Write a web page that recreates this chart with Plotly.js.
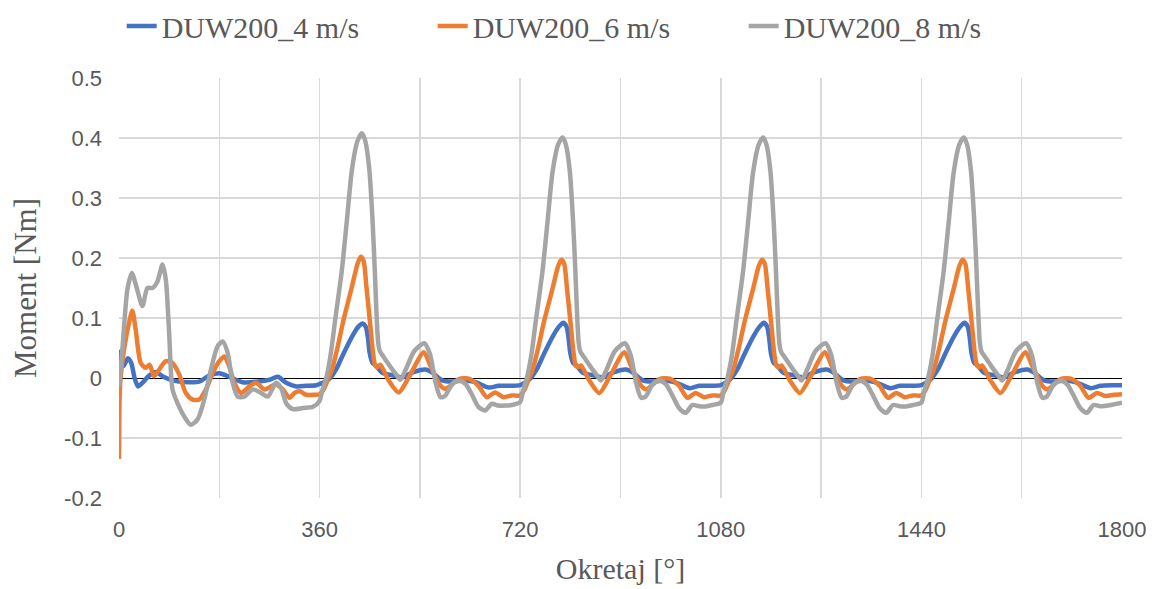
<!DOCTYPE html>
<html>
<head>
<meta charset="utf-8">
<script src="https://cdn.plot.ly/plotly-3.0.1.min.js"></script>
<style>html,body{margin:0;padding:0;background:#fff;}#chart{width:1159px;height:589px;}</style>
</head>
<body>
<div id="chart"></div>
<script>
// Series names
const seriesNames = ["DUW200_4 m/s", "DUW200_6 m/s", "DUW200_8 m/s"];

// DUW200_4 m/s
const angle4 = [
  0,3,8,16,22,28,34,42,54,66,78,93,108,126,144,162,180,198,222,250,270,285,300,318,336,354,
  360,370,379,390,403,420,430,437,443,447,450,455,461,472,493,508,526,550,562,580,598,622,640,664,681,705,
  720,730,739,750,763,780,790,797,803,807,810,815,821,832,853,868,886,910,922,940,958,982,1000,1024,1041,1065,
  1080,1090,1099,1110,1123,1140,1150,1157,1163,1167,1170,1175,1181,1192,1213,1228,1246,1270,1282,1300,1318,1342,1360,1384,1401,1425,
  1440,1450,1459,1470,1483,1500,1510,1517,1523,1527,1530,1535,1541,1552,1573,1588,1606,1630,1642,1660,1678,1702,1720,1744,1761,1785,1800
];
const moment4 = [
  0.047,0.03,0.02,0.033,0.025,0.0,-0.014,-0.008,0.004,0.01,0.003,-0.003,-0.006,-0.007,-0.006,0.004,0.008,0.002,-0.007,-0.006,-0.003,0.002,-0.008,-0.014,-0.013,-0.012,
  -0.01,-0.006,0.0,0.015,0.041,0.072,0.086,0.091,0.085,0.065,0.041,0.025,0.021,0.009,0.004,0.001,0.009,0.014,0.009,-0.004,-0.006,-0.004,-0.007,-0.016,-0.013,-0.013,
  -0.012,-0.007,0.0,0.015,0.041,0.072,0.086,0.092,0.086,0.065,0.041,0.025,0.021,0.009,0.004,0.001,0.009,0.014,0.009,-0.004,-0.006,-0.004,-0.008,-0.017,-0.013,-0.013,
  -0.012,-0.007,0.0,0.015,0.041,0.072,0.086,0.092,0.086,0.065,0.041,0.025,0.021,0.009,0.004,0.001,0.009,0.014,0.009,-0.004,-0.006,-0.004,-0.008,-0.017,-0.013,-0.013,
  -0.012,-0.007,0.0,0.015,0.041,0.072,0.086,0.092,0.086,0.065,0.041,0.025,0.021,0.009,0.004,0.001,0.009,0.014,0.009,-0.004,-0.006,-0.004,-0.008,-0.017,-0.013,-0.012,-0.012
];

// DUW200_6 m/s
const angle6 = [
  0,2,9,18,24,30,39,48,55,63,72,84,96,108,120,132,144,156,168,180,189,198,207,219,234,246,261,273,282,294,306,315,324,336,350,
  360,368,376,382,392,403,418,428,434,439,444,450,456,460,464,469,484,502,520,547,559,577,586,610,628,645,660,675,690,705,
  720,728,736,742,752,763,778,788,794,799,804,810,816,820,824,829,844,862,880,907,919,937,946,970,988,1005,1020,1035,1050,1065,
  1080,1088,1096,1102,1112,1123,1138,1148,1154,1159,1164,1170,1176,1180,1184,1189,1204,1222,1240,1267,1279,1297,1306,1330,1348,1365,1380,1395,1410,1425,
  1440,1448,1456,1462,1472,1483,1498,1508,1514,1519,1524,1530,1536,1540,1544,1549,1564,1582,1600,1627,1639,1657,1666,1690,1708,1725,1740,1755,1770,1785,1800
];
const moment6 = [
  -0.135,-0.01,0.047,0.092,0.112,0.08,0.025,0.017,0.022,0.003,0.014,0.028,0.025,0.006,-0.025,-0.036,-0.036,-0.019,0.008,0.028,0.036,0.019,-0.008,-0.025,-0.014,-0.008,-0.019,-0.014,-0.011,-0.019,-0.033,-0.025,-0.022,-0.028,-0.028,
  -0.027,-0.018,0.0,0.013,0.05,0.097,0.152,0.19,0.202,0.195,0.152,0.097,0.041,0.02,0.018,0.022,-0.004,-0.024,0.001,0.043,0.02,-0.013,-0.018,-0.002,-0.001,-0.013,-0.032,-0.024,-0.032,-0.029,
  -0.029,-0.019,0.0,0.013,0.049,0.095,0.149,0.186,0.197,0.19,0.149,0.095,0.04,0.02,0.018,0.021,-0.004,-0.025,0.001,0.043,0.02,-0.013,-0.019,-0.002,-0.001,-0.013,-0.033,-0.025,-0.032,-0.029,
  -0.029,-0.019,0.0,0.013,0.049,0.095,0.149,0.186,0.197,0.19,0.149,0.095,0.04,0.02,0.018,0.021,-0.004,-0.025,0.001,0.043,0.02,-0.013,-0.019,-0.002,-0.001,-0.013,-0.033,-0.025,-0.032,-0.029,
  -0.029,-0.019,0.0,0.013,0.049,0.095,0.149,0.186,0.197,0.19,0.149,0.095,0.04,0.02,0.018,0.021,-0.004,-0.025,0.001,0.043,0.02,-0.013,-0.019,-0.002,-0.001,-0.013,-0.033,-0.025,-0.03,-0.028,-0.027
];

// DUW200_8 m/s
const angle8 = [
  0,6,15,23,31,42,51,60,69,78,84,90,96,105,117,129,141,153,165,177,186,195,204,213,225,240,255,267,282,291,300,312,330,348,
  360,365,372,380,388,400,409,418,428,436,442,449,455,459,462,465,468,475,486,498,505,515,530,548,558,568,577,585,598,610,622,632,645,657,669,681,695,705,
  720,725,732,740,748,760,769,778,788,796,802,809,815,819,822,825,828,835,846,858,865,875,890,908,918,928,937,945,958,970,982,992,1005,1017,1029,1041,1055,1065,
  1080,1085,1092,1100,1108,1120,1129,1138,1148,1156,1162,1169,1175,1179,1182,1185,1188,1195,1206,1218,1225,1235,1250,1268,1278,1288,1297,1305,1318,1330,1342,1352,1365,1377,1389,1401,1415,1425,
  1440,1445,1452,1460,1468,1480,1489,1498,1508,1516,1522,1529,1535,1539,1542,1545,1548,1555,1566,1578,1585,1595,1610,1628,1638,1648,1657,1665,1678,1690,1702,1712,1725,1737,1749,1761,1775,1785,1800
];
const moment8 = [
  -0.014,0.047,0.147,0.175,0.153,0.12,0.15,0.15,0.161,0.189,0.164,0.075,-0.019,-0.042,-0.064,-0.078,-0.069,-0.036,0.014,0.053,0.061,0.042,-0.008,-0.031,-0.031,-0.019,-0.025,-0.031,-0.008,-0.017,-0.042,-0.052,-0.05,-0.048,
  -0.038,-0.02,0.0,0.04,0.097,0.18,0.263,0.347,0.395,0.408,0.395,0.35,0.263,0.18,0.11,0.06,0.045,0.035,0.02,0.005,-0.003,0.015,0.045,0.058,0.04,-0.007,-0.032,-0.03,-0.01,-0.004,-0.01,-0.025,-0.048,-0.054,-0.043,-0.046,-0.046,-0.045,
  -0.04,-0.022,0.0,0.038,0.095,0.178,0.26,0.343,0.389,0.401,0.389,0.345,0.259,0.178,0.108,0.058,0.044,0.034,0.019,0.004,-0.004,0.014,0.045,0.058,0.039,-0.008,-0.033,-0.031,-0.01,-0.004,-0.011,-0.027,-0.05,-0.058,-0.045,-0.047,-0.047,-0.045,
  -0.041,-0.022,0.0,0.038,0.095,0.178,0.26,0.343,0.389,0.401,0.389,0.345,0.259,0.178,0.108,0.058,0.044,0.034,0.019,0.004,-0.004,0.014,0.045,0.058,0.039,-0.008,-0.033,-0.031,-0.01,-0.004,-0.011,-0.027,-0.05,-0.058,-0.045,-0.047,-0.047,-0.045,
  -0.041,-0.022,0.0,0.038,0.095,0.178,0.26,0.343,0.389,0.401,0.389,0.345,0.259,0.178,0.108,0.058,0.044,0.034,0.019,0.004,-0.004,0.014,0.045,0.058,0.039,-0.008,-0.033,-0.031,-0.01,-0.004,-0.011,-0.027,-0.05,-0.058,-0.045,-0.047,-0.046,-0.044,-0.041
];

// Axis ticks
const xTickVals = [0,180,360,540,720,900,1080,1260,1440,1620,1800];
const xTickText = ["0","","360","","720","","1080","","1440","","1800"];
const yTickVals = [-0.2,-0.1,0,0.1,0.2,0.3,0.4,0.5];
const yTickText = ["-0.2","-0.1","0","0.1","0.2","0.3","0.4","0.5"];

const colors = ["#4472C4", "#ED7D31", "#A5A5A5"];
const xs = [angle4, angle6, angle8];
const ys = [moment4, moment6, moment8];

const traces = seriesNames.map((n, i) => ({
  x: xs[i], y: ys[i], name: n, type: "scatter", mode: "lines",
  line: {color: colors[i], width: 4.5, shape: "spline", smoothing: 0.7},
  hoverinfo: "skip"
}));

const serif = "Liberation Serif, Times New Roman, serif";
const sans = "Liberation Sans, Arial, sans-serif";

const layout = {
  width: 1159, height: 589,
  margin: {l: 119, r: 37, t: 78, b: 91, autoexpand: false},
  paper_bgcolor: "#fff", plot_bgcolor: "#fff",
  showlegend: true,
  legend: {
    orientation: "h", xref: "container", yref: "container",
    x: 0.105, xanchor: "left", y: 1, yanchor: "top",
    font: {family: serif, size: 30, color: "#595959"},
    entrywidth: 266, entrywidthmode: "pixels",
    tracegroupgap: 0
  },
  xaxis: {
    range: [0, 1800], tickvals: xTickVals, ticktext: xTickText,
    showgrid: true, gridcolor: "#d9d9d9", gridwidth: 1.5,
    zeroline: false, showline: false, ticks: "",
    ticklabelstandoff: 16, automargin: false,
    tickfont: {family: sans, size: 22, color: "#595959"},
    title: {text: "Okretaj [°]", font: {family: serif, size: 30, color: "#595959"}, standoff: 16}
  },
  yaxis: {
    range: [-0.2, 0.5], tickvals: yTickVals, ticktext: yTickText,
    showgrid: true, gridcolor: "#d9d9d9", gridwidth: 1.5,
    zeroline: true, zerolinecolor: "#000", zerolinewidth: 1,
    showline: false, ticks: "", automargin: false,
    ticklabelstandoff: 16,
    tickfont: {family: sans, size: 22, color: "#595959"},
    title: {text: "Moment [Nm]", font: {family: serif, size: 31, color: "#595959"}, standoff: 18}
  }
};

Plotly.newPlot("chart", traces, layout, {displayModeBar: false, staticPlot: true});
</script>
</body>
</html>
